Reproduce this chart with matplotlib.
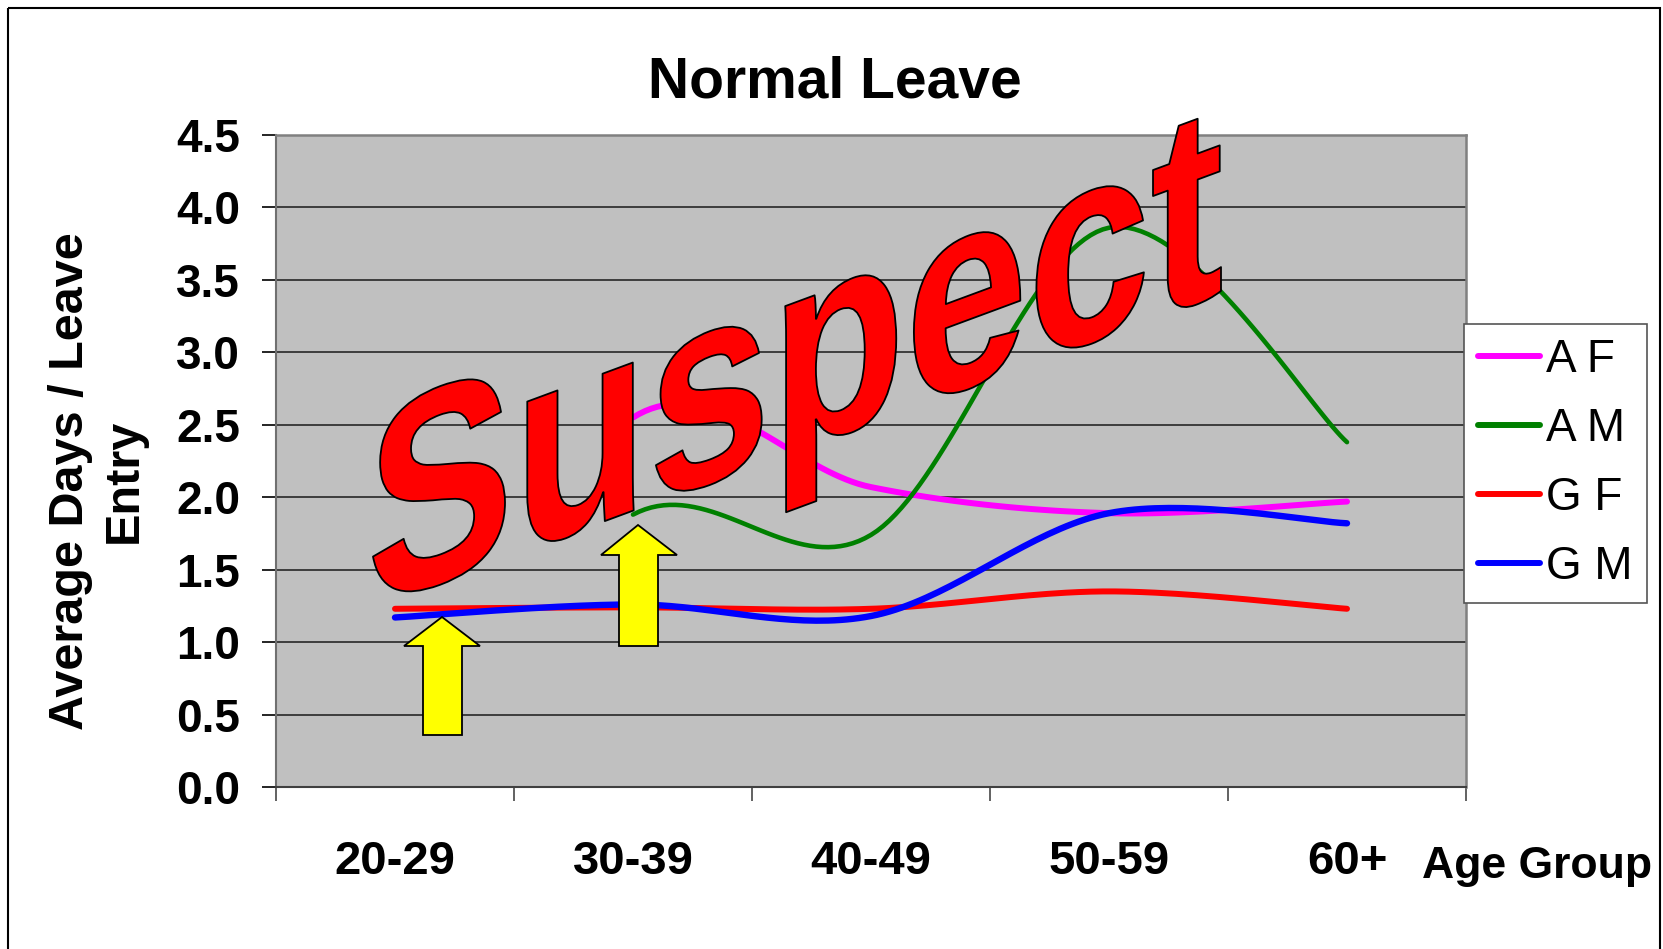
import numpy as np
import matplotlib
matplotlib.use('Agg')
import matplotlib.pyplot as plt
from matplotlib import patheffects
from matplotlib.font_manager import FontProperties
from matplotlib.patches import Polygon, Rectangle
from matplotlib.textpath import TextPath
from matplotlib.transforms import Affine2D

W, H = 1663, 949

# chart data
age_groups = ['20-29', '30-39', '40-49', '50-59', '60+']
af = [np.nan, 2.55, 2.07, 1.89, 1.97]
am = [np.nan, 1.88, 1.74, 3.86, 2.38]
gf = [1.23, 1.24, 1.23, 1.35, 1.23]
gm = [1.17, 1.26, 1.18, 1.89, 1.82]
series_names = ['A F', 'A M', 'G F', 'G M']
series_colors = ['#FF00FF', '#008000', '#FF0000', '#0000FF']
series_lw = [4.3, 3.3, 4.3, 4.6]
y_ticks = np.arange(0, 4.51, 0.5)

plt.rcParams['font.family'] = ['Liberation Sans', 'DejaVu Sans']


def excel_smooth(vals, n=40):
    # excel "smoothed line": bezier between the points, control points from the
    # neighbours. a blank neighbour counts as 0 -> the small bump at the start
    y = np.asarray(vals, float)
    x = np.arange(len(y), dtype=float)
    ok = ~np.isnan(y)
    yz = np.where(ok, y, 0.0)
    t = np.linspace(0, 1, n)[:, None]
    out = []
    for i in range(len(y) - 1):
        j = i + 1
        if not (ok[i] and ok[j]):
            continue
        p = i - 1 if i > 0 else i
        q = j + 1 if j < len(y) - 1 else j
        P0 = np.array([x[i], y[i]])
        P3 = np.array([x[j], y[j]])
        C1 = P0 + np.array([x[j] - x[p], yz[j] - yz[p]]) / 6
        C2 = P3 - np.array([x[q] - x[i], yz[q] - yz[i]]) / 6
        seg = ((1 - t) ** 3) * P0 + 3 * ((1 - t) ** 2) * t * C1 + 3 * (1 - t) * t ** 2 * C2 + t ** 3 * P3
        out.append(seg if not out else seg[1:])
    pts = np.vstack(out)
    return pts[:, 0], pts[:, 1]


class WordArt(patheffects.AbstractPathEffect):
    # stretch the text sideways and shear it so the baseline climbs (slant-up wordart)
    def __init__(self, sx, slope, fc, ec, lw):
        super().__init__()
        self.sx, self.slope, self.fc, self.ec, self.lw = sx, slope, fc, ec, lw

    def draw_path(self, renderer, gc, tpath, affine, rgbFace=None):
        m = affine.get_matrix()
        tx, ty = m[0, 2], m[1, 2]
        warp = (Affine2D().translate(-tx, -ty).scale(self.sx, 1)
                .skew(0, np.arctan(self.slope)).translate(tx, ty))
        gc0 = renderer.new_gc()
        gc0.copy_properties(gc)
        gc0.set_linewidth(self.lw)
        gc0.set_foreground(self.ec)
        renderer.draw_path(gc0, tpath, affine + warp, matplotlib.colors.to_rgb(self.fc))
        gc0.restore()


fig = plt.figure(figsize=(W / 100, H / 100), dpi=100)
# image pixel coords (y down) -> figure
pix = Affine2D().scale(1 / W, -1 / H).translate(0, 1) + fig.transFigure

ax = fig.add_axes([276 / W, 1 - 787 / H, (1466 - 276) / W, (787 - 135) / H])
ax.set_facecolor('#C0C0C0')
ax.set_xlim(-0.5, 4.5)
ax.set_ylim(0, 4.5)

lines = []
for vals, name, col, lw in zip([af, am, gf, gm], series_names, series_colors, series_lw):
    xs, ys = excel_smooth(vals)
    ln, = ax.plot(xs, ys, color=col, lw=lw, label=name, solid_capstyle='round', zorder=3)
    lines.append(ln)

ax.set_yticks(y_ticks)
ax.set_yticklabels([f'{v:.1f}' for v in y_ticks])
ax.yaxis.grid(True, color='#333333', lw=1.3)
ax.set_axisbelow(True)
ax.tick_params(axis='y', length=10, width=1.2, color='black', pad=16, labelsize=33)
for lab in ax.get_yticklabels():
    lab.set_fontweight('bold')

ax.set_xticks(np.arange(-0.5, 4.6, 1))
ax.set_xticklabels([])
ax.set_xticks(range(len(age_groups)), minor=True)
ax.set_xticklabels(age_groups, minor=True)
ax.tick_params(axis='x', which='major', length=10, width=1.3, color='#555555')
ax.tick_params(axis='x', which='minor', length=0, pad=38, labelsize=34)
for lab in ax.get_xticklabels(minor=True):
    lab.set_fontweight('bold')

for s in ['top', 'right']:
    ax.spines[s].set_color('#808080')
    ax.spines[s].set_linewidth(1.8)
ax.spines['left'].set_color('#707070')
ax.spines['left'].set_linewidth(1.5)
ax.spines['bottom'].set_color('#404040')
ax.spines['bottom'].set_linewidth(1.5)

leg = ax.legend(lines, series_names, loc='upper left', bbox_to_anchor=(1464 / W, 1 - 324 / H),
                bbox_transform=fig.transFigure, frameon=True, fancybox=False, framealpha=1,
                edgecolor='#555555', fontsize=33, handlelength=1.35, handletextpad=0.15,
                labelspacing=0.55, borderpad=0.3, borderaxespad=0)
leg.get_frame().set_linewidth(1.2)
for hl in leg.get_lines():
    hl.set_linewidth(4.3)

fig.text(835 / W, 1 - 97 / H, 'Normal Leave', ha='center', va='baseline', fontsize=41, fontweight='bold')
fig.text(1422 / W, 1 - 878 / H, 'Age Group', ha='left', va='baseline', fontsize=32, fontweight='bold')
fig.text(97 / W, 1 - 481 / H, 'Average Days / Leave\nEntry', rotation=90, ha='center', va='center',
         multialignment='center', fontsize=35, fontweight='bold', linespacing=1.25)

# outer chart border
fig.add_artist(Rectangle((8, 8), 1652, 1000, fill=False, ec='black', lw=1.5, transform=pix))

# yellow arrows
arrow1 = [(442, 617), (480, 646), (462, 646), (462, 735), (423, 735), (423, 646), (404, 646)]
arrow2 = [(638, 525), (677, 555), (658, 555), (658, 646), (619, 646), (619, 555), (601, 555)]
for a in [arrow1, arrow2]:
    fig.add_artist(Polygon(a, closed=True, fc='#FFFF00', ec='black', lw=1.3, transform=pix, zorder=5))

# "Suspect" wordart
wa_size = 202
fp = FontProperties(family='Liberation Sans', weight='bold', size=wa_size)
em = wa_size * 100 / 72
ext = TextPath((0, 0), 'Suspect', size=1, prop=fp).get_extents()
ink_left, ink_right = 373, 1221
slope = 0.37
sx = (ink_right - ink_left) / (ext.width * em)
x0 = ink_left - ext.x0 * em * sx
y0 = 514 + slope * (624 - x0)  # baseline, image coords
fig.text(x0 / W, 1 - y0 / H, 'Suspect', fontproperties=fp, ha='left', va='baseline', color='#FF0000',
         zorder=6, path_effects=[WordArt(sx, slope, '#FF0000', 'black', 1.3)])

fig.savefig('out.png', dpi=100)
